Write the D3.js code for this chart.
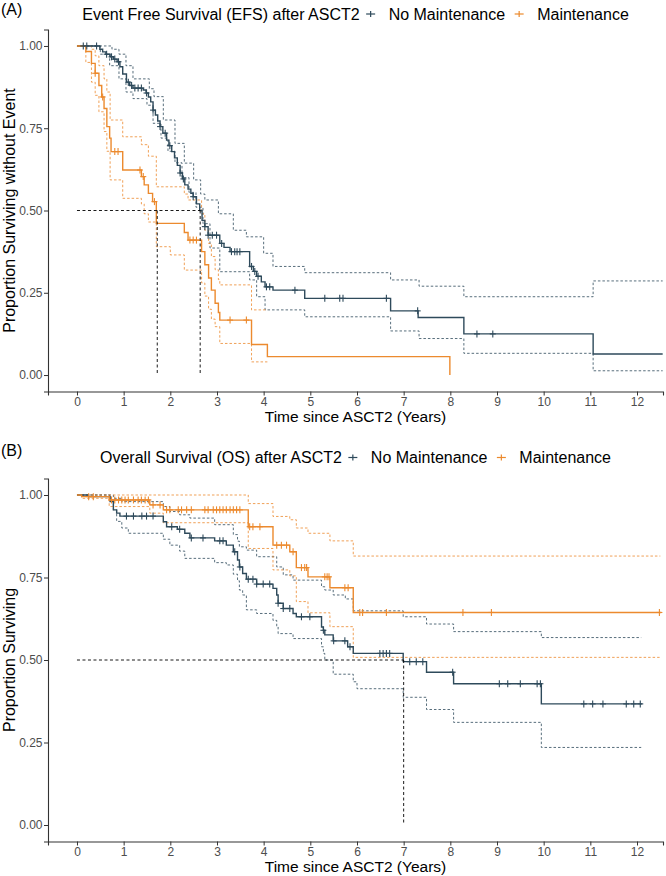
<!DOCTYPE html>
<html><head><meta charset="utf-8">
<script src="https://cdn.jsdelivr.net/npm/d3@7"></script>
<style>
html,body{margin:0;padding:0;background:#fff;}
svg{display:block;font-family:"Liberation Sans",Arial,Helvetica,sans-serif;}
</style></head>
<body><svg id="chart" width="666" height="876"></svg>
<script>
// ---------- data ----------
const xTicks = [0,1,2,3,4,5,6,7,8,9,10,11,12];
const yTicks = [0,0.25,0.5,0.75,1];
const seriesNames = ["No Maintenance","Maintenance"];
const panelTags = ["(A)","(B)"];
const panelTitles = ["Event Free Survival (EFS) after ASCT2","Overall Survival (OS) after ASCT2"];
const yTitles = ["Proportion Surviving without Event","Proportion Surviving"];
const xTitle = "Time since ASCT2 (Years)";

// EFS - No Maintenance
const efsNoTime = [0,0.49,0.55,0.62,0.71,0.78,0.86,0.92,0.98,1.06,1.13,1.2,1.42,1.48,1.53,1.58,1.63,1.68,1.73,1.78,1.84,1.92,1.97,2.03,2.09,2.15,2.21,2.26,2.31,2.38,2.44,2.49,2.56,2.63,2.68,2.74,2.81,3.06,3.15,3.28,3.70,3.78,3.85,3.95,4.03,4.2,4.88,6.72,7.31,8.29,11.06];
const efsNoSurv = [1,0.99,0.982,0.975,0.967,0.96,0.952,0.937,0.915,0.89,0.88,0.872,0.866,0.857,0.845,0.83,0.805,0.79,0.772,0.755,0.735,0.714,0.697,0.679,0.66,0.637,0.614,0.596,0.578,0.565,0.552,0.542,0.52,0.50,0.47,0.451,0.425,0.40,0.388,0.375,0.33,0.315,0.30,0.283,0.268,0.258,0.233,0.195,0.175,0.125,0.064];
const efsNoUpperTime = [0,0.75,0.9,1.05,1.2,1.55,1.65,1.85,2.1,2.3,2.5,2.65,2.74,3.03,3.35,3.63,4.0,4.2,4.88,6.72,7.33,8.29,11.06];
const efsNoUpper = [1,0.99,0.975,0.94,0.9,0.87,0.846,0.775,0.704,0.644,0.593,0.55,0.532,0.49,0.44,0.42,0.37,0.33,0.311,0.289,0.27,0.238,0.286];
const efsNoLowerTime = [0,0.5,0.7,0.9,1.05,1.2,1.5,1.63,1.8,1.95,2.1,2.25,2.4,2.55,2.7,2.85,3.06,3.7,3.85,4.03,4.88,6.72,7.33,8.29,11.06];
const efsNoLower = [1,0.975,0.94,0.9,0.86,0.84,0.82,0.765,0.72,0.68,0.645,0.60,0.555,0.51,0.46,0.386,0.314,0.289,0.238,0.198,0.177,0.134,0.111,0.066,0.013];
const efsNoCensor = [0.135,0.21,0.42,0.635,0.74,0.81,0.89,1.10,1.17,1.24,1.31,1.38,1.49,1.63,1.78,1.89,1.99,2.21,2.28,2.49,2.74,2.81,2.9,2.99,3.10,3.31,3.38,3.43,3.49,3.74,3.81,3.88,4.06,4.13,4.67,5.31,5.63,5.70,6.63,7.30,8.57,8.91];
const efsNoEnd = 12.55, efsNoCIEnd = 12.55;

// EFS - Maintenance
const efsMTime = [0,0.19,0.31,0.39,0.47,0.53,0.58,0.64,0.7,0.73,0.98,1.38,1.44,1.53,1.62,1.70,2.30,2.38,2.67,2.74,2.82,2.88,2.96,3.03,3.06,3.74,4.08,7.99];
const efsMSurv = [1,0.983,0.947,0.917,0.88,0.845,0.81,0.755,0.72,0.679,0.623,0.603,0.578,0.552,0.527,0.461,0.433,0.41,0.375,0.335,0.295,0.258,0.218,0.19,0.167,0.093,0.056,0];
const efsMUpperTime = [0,0.31,0.39,0.47,0.58,0.64,0.71,0.98,1.38,1.53,1.70,2.30,2.38,2.67,2.74,2.82,2.88,2.96,3.03,3.06,3.74];
const efsMUpper = [1,0.99,0.97,0.94,0.9,0.86,0.775,0.724,0.70,0.665,0.572,0.55,0.532,0.49,0.44,0.40,0.36,0.32,0.29,0.274,0.198];
const efsMLowerTime = [0,0.19,0.31,0.39,0.47,0.58,0.64,0.71,0.98,1.38,1.44,1.53,1.70,2.0,2.30,2.67,2.74,2.82,2.88,2.96,3.06,3.74];
const efsMLower = [1,0.95,0.89,0.85,0.8,0.74,0.68,0.593,0.537,0.52,0.49,0.465,0.39,0.365,0.319,0.28,0.24,0.2,0.17,0.147,0.096,0.04];
const efsMCensor = [0.39,0.55,0.81,0.88,1.35,1.42,1.66,2.42,2.49,2.56,3.28,3.63];
const efsMEnd = 7.99, efsMCIEnd = 4.08;

// OS - No Maintenance
const osNoTime = [0,0.25,0.71,0.78,0.85,0.92,1.85,1.92,2.15,2.31,2.42,2.95,3.2,3.35,3.44,3.48,3.55,3.63,3.85,4.2,4.28,4.31,4.42,4.63,4.7,5.24,5.28,5.31,5.49,5.80,5.92,6.99,7.49,8.07,9.95];
const osNoSurv = [1,0.995,0.98,0.955,0.945,0.936,0.919,0.904,0.896,0.884,0.87,0.861,0.848,0.828,0.803,0.782,0.762,0.745,0.73,0.717,0.697,0.672,0.656,0.641,0.631,0.6,0.59,0.576,0.558,0.54,0.52,0.495,0.463,0.428,0.367];
const osNoUpperTime = [0,0.7,0.78,0.96,1.85,1.99,2.2,2.42,2.95,3.35,3.44,3.48,3.63,3.85,4.28,4.42,4.63,5.24,5.31,5.49,5.75,5.92,6.99,7.49,8.07,9.95];
const osNoUpper = [1,1,0.99,0.98,0.965,0.95,0.94,0.93,0.91,0.88,0.86,0.843,0.833,0.813,0.782,0.758,0.742,0.722,0.712,0.697,0.685,0.649,0.631,0.609,0.586,0.568];
const osNoLowerTime = [0,0.7,0.78,0.85,0.96,1.1,1.85,1.99,2.2,2.31,2.95,3.2,3.35,3.44,3.48,3.55,3.63,3.85,4.2,4.28,4.31,4.63,5.24,5.28,5.31,5.49,5.92,6.0,6.99,7.49,8.07,9.95];
const osNoLower = [1,0.985,0.955,0.92,0.9,0.884,0.866,0.848,0.83,0.808,0.795,0.788,0.76,0.74,0.712,0.697,0.652,0.641,0.62,0.6,0.58,0.565,0.54,0.52,0.5,0.457,0.434,0.413,0.387,0.35,0.311,0.235];
const osNoCensor = [1.06,1.21,1.39,1.49,1.63,2.03,2.2,2.45,2.7,3.06,3.13,3.38,3.49,3.67,3.77,3.85,3.99,4.13,4.31,4.42,4.56,4.81,4.99,5.28,5.50,5.74,5.85,6.49,6.56,6.63,6.70,7.13,7.27,7.41,8.05,9.05,9.23,9.5,9.86,9.93,10.86,11.05,11.27,11.77,11.93,12.07];
const osNoEnd = 12.11, osNoCIEnd = 12.09;

// OS - Maintenance
const osMTime = [0,0.1,0.69,1.56,1.85,3.67,4.2,4.56,4.7,4.95,5.42,5.92];
const osMSurv = [1,0.995,0.985,0.97,0.955,0.904,0.848,0.828,0.78,0.752,0.719,0.644];
const osMUpperTime = [0,3.67,4.2,4.56,4.7,4.95,5.42,5.92];
const osMUpper = [1,0.974,0.935,0.925,0.9,0.884,0.861,0.815];
const osMLowerTime = [0,0.1,0.69,1.56,1.85,3.67,4.2,4.56,4.7,4.95,5.42,5.92];
const osMLower = [1,0.99,0.965,0.945,0.916,0.838,0.773,0.755,0.677,0.643,0.601,0.508];
const osMCensor = [0.25,0.35,0.74,0.81,0.89,0.96,1.03,1.1,1.21,1.31,1.38,1.46,1.53,1.63,1.78,1.92,1.99,2.17,2.24,2.35,2.45,2.74,2.81,2.92,2.99,3.06,3.13,3.2,3.28,3.35,3.42,3.49,3.7,3.77,3.92,4.28,4.38,4.49,4.63,4.81,4.88,4.92,5.31,5.36,5.40,5.74,5.81,6.06,6.12,6.63,8.27,8.88,12.48];
const osMEnd = 12.52, osMCIEnd = 12.5;

// median survival times
const efsMedians = [2.64, 1.72];
const osMedians = [7.0];

// ---------- drawing ----------
const colors = {"No Maintenance":"#2E4A5B","Maintenance":"#EC8A2E"};
const svg = d3.select("#chart");
const FONT = '"Liberation Sans",Arial,Helvetica,sans-serif';

function stepPts(times, vals, end){
  const p = times.map((t,i)=>[t, vals[i]]);
  p.push([end, vals[vals.length-1]]);
  return p;
}
function survAt(times, vals, t){
  let v = vals[0];
  for(let i=0;i<times.length;i++){ if(times[i] <= t) v = vals[i]; }
  return v;
}

const x = d3.scaleLinear().domain([-0.621, 12.557]).range([48, 663]);

function panel(cfg){
  const y = d3.scaleLinear().domain([-0.05, 1.05]).range([cfg.bottom, cfg.top]);
  const g = svg.append("g");
  const line = d3.line().x(d=>x(d[0])).y(d=>y(d[1])).curve(d3.curveStepAfter);

  // CI
  cfg.series.forEach(s=>{
    [[s.upT,s.up],[s.loT,s.lo]].forEach(([tt,vv])=>{
      g.append("path").datum(stepPts(tt,vv,s.ciEnd)).attr("d",line)
        .attr("fill","none").attr("stroke",colors[s.name]).attr("stroke-width",1)
        .attr("stroke-dasharray","2.5,2").attr("opacity",0.8);
    });
  });
  // main curves
  cfg.series.forEach(s=>{
    g.append("path").datum(stepPts(s.t,s.s,s.end)).attr("d",line)
      .attr("fill","none").attr("stroke",colors[s.name]).attr("stroke-width",1.4);
  });
  // censors
  cfg.series.forEach(s=>{
    const cg = g.append("g").attr("stroke",colors[s.name]).attr("stroke-width",1.1);
    s.c.forEach(t=>{
      const cx = x(t), cy = y(survAt(s.t,s.s,t));
      cg.append("line").attr("x1",cx-3).attr("x2",cx+3).attr("y1",cy).attr("y2",cy);
      cg.append("line").attr("x1",cx).attr("x2",cx).attr("y1",cy-3.5).attr("y2",cy+3.5);
    });
  });
  // median lines
  const mg = g.append("g").attr("stroke","#000").attr("stroke-width",0.9).attr("stroke-dasharray","3,2.5").attr("fill","none");
  const mMax = d3.max(cfg.medians);
  mg.append("line").attr("x1",x(0)).attr("x2",x(mMax)).attr("y1",y(0.5)).attr("y2",y(0.5));
  cfg.medians.forEach(m=>{
    mg.append("line").attr("x1",x(m)).attr("x2",x(m)).attr("y1",y(0.5)).attr("y2",y(0));
  });

  // axes
  const ax = g.append("g").attr("transform",`translate(0,${cfg.bottom})`)
    .call(d3.axisBottom(x).tickValues(xTicks).tickSize(4).tickPadding(1.5).tickFormat(d3.format("d")));
  const ay = g.append("g").attr("transform","translate(48,0)")
    .call(d3.axisLeft(y).tickValues(yTicks).tickSize(4).tickPadding(1.5).tickFormat(d3.format(".2f")));
  [ax,ay].forEach(a=>{
    a.select(".domain").attr("stroke","#333").attr("stroke-width",1.1);
    a.selectAll(".tick line").attr("stroke","#333").attr("stroke-width",1);
    a.selectAll(".tick text").attr("fill","#4D4D4D").style("font-family",FONT).style("font-size","12px");
  });

  // axis titles
  g.append("text").attr("x",(48+663)/2).attr("y",cfg.bottom+30.5).attr("text-anchor","middle")
    .style("font-size","15.5px").attr("fill","#000").text(xTitle);
  g.append("text").attr("transform",`translate(15,${(cfg.top+cfg.bottom)/2}) rotate(-90)`)
    .attr("text-anchor","middle").style("font-size","16px").attr("fill","#000").text(cfg.yTitle);

  // tag
  g.append("text").attr("x",1).attr("y",cfg.tagY).style("font-size","16px").attr("fill","#000").text(cfg.tag);

  // legend (centred over panel)
  const lg = g.append("g");
  const tt = lg.append("text").attr("x",0).attr("y",0).style("font-size","16px").attr("fill","#000").text(cfg.title);
  let cur = tt.node().getComputedTextLength();
  cur += 11;
  seriesNames.forEach((nm,i)=>{
    const kc = cur;
    lg.append("line").attr("x1",kc-4.5).attr("x2",kc+4.5).attr("y1",-5.5).attr("y2",-5.5)
      .attr("stroke",colors[nm]).attr("stroke-width",1.2);
    lg.append("line").attr("x1",kc).attr("x2",kc).attr("y1",-8.5).attr("y2",-2.5)
      .attr("stroke",colors[nm]).attr("stroke-width",1.2);
    const lt = lg.append("text").attr("x",kc+18).attr("y",0).style("font-size","16px").attr("fill","#000").text(nm);
    cur = kc + 18 + lt.node().getComputedTextLength() + 14;
  });
  const totalW = cur - 14;
  lg.attr("transform",`translate(${(48+663)/2 - totalW/2},${cfg.legendY})`);
}

panel({
  top:29.5, bottom:391.5, tag:panelTags[0], tagY:15, legendY:19.5,
  title:panelTitles[0], yTitle:yTitles[0], medians:efsMedians,
  series:[
    {name:seriesNames[0], t:efsNoTime, s:efsNoSurv, end:efsNoEnd, upT:efsNoUpperTime, up:efsNoUpper, loT:efsNoLowerTime, lo:efsNoLower, ciEnd:efsNoCIEnd, c:efsNoCensor},
    {name:seriesNames[1], t:efsMTime, s:efsMSurv, end:efsMEnd, upT:efsMUpperTime, up:efsMUpper, loT:efsMLowerTime, lo:efsMLower, ciEnd:efsMCIEnd, c:efsMCensor}
  ]
});
panel({
  top:478.5, bottom:841.5, tag:panelTags[1], tagY:456, legendY:463,
  title:panelTitles[1], yTitle:yTitles[1], medians:osMedians,
  series:[
    {name:seriesNames[0], t:osNoTime, s:osNoSurv, end:osNoEnd, upT:osNoUpperTime, up:osNoUpper, loT:osNoLowerTime, lo:osNoLower, ciEnd:osNoCIEnd, c:osNoCensor},
    {name:seriesNames[1], t:osMTime, s:osMSurv, end:osMEnd, upT:osMUpperTime, up:osMUpper, loT:osMLowerTime, lo:osMLower, ciEnd:osMCIEnd, c:osMCensor}
  ]
});
</script></body></html>
